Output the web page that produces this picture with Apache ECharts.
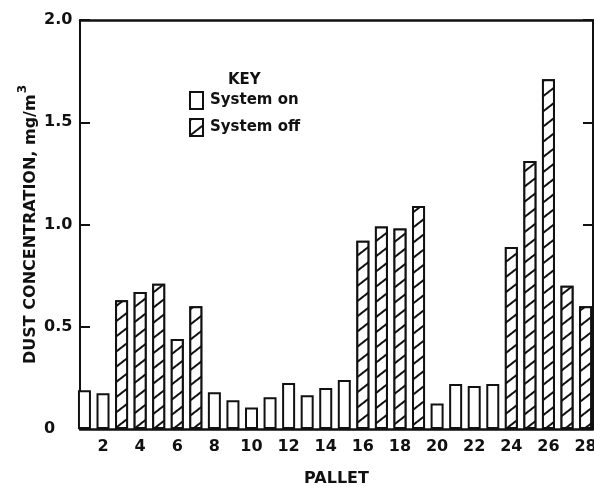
<!DOCTYPE html>
<html>
<head>
<meta charset="utf-8">
<script src="https://cdn.jsdelivr.net/npm/echarts@6/dist/echarts.min.js"></script>
<style>
html,body{margin:0;padding:0;background:#fff;}
#chart{width:594px;height:490px;}
</style>
</head>
<body>
<div id="chart"></div>
<script>
// Data
const pallets = [1,2,3,4,5,6,7,8,9,10,11,12,13,14,15,16,17,18,19,20,21,22,23,24,25,26,27,28];
const systemOn = [0.19,0.175,null,null,null,null,null,0.18,0.14,0.105,0.155,0.225,0.165,0.20,0.24,null,null,null,null,0.125,0.22,0.21,0.22,null,null,null,null,null];
const systemOff = [null,null,0.63,0.67,0.71,0.44,0.60,null,null,null,null,null,null,null,null,0.92,0.99,0.98,1.09,null,null,null,null,0.89,1.31,1.71,0.70,0.60];
const xTickLabels = [2,4,6,8,10,12,14,16,18,20,22,24,26,28];

const FONT = 'DejaVu Sans';
const INK = '#111';

const chart = echarts.init(document.getElementById('chart'), null, {renderer:'canvas'});

const onData = pallets.map((p,i)=>[p, systemOn[i]]);
const offData = pallets.map((p,i)=>[p, systemOff[i]]);

chart.setOption({
  backgroundColor:'#fff',
  animation:false,
  title:{
    text:'KEY', left:223, top:68,
    textStyle:{fontFamily:FONT, fontSize:15, fontWeight:'bold', color:INK}
  },
  legend:{
    data:['System on','System off'],
    orient:'vertical', left:184, top:86,
    itemWidth:13, itemHeight:17, itemGap:8,
    icon:'rect',
    textStyle:{fontFamily:FONT, fontSize:15, fontWeight:'bold', color:INK, padding:[0,0,0,2]}
  },
  grid:{left:80, top:20, width:513, height:409, show:false, outerBoundsMode:'none', containLabel:false},
  xAxis:[{
    type:'value', min:0.76, max:28.4,
    name:'PALLET', nameLocation:'middle', nameGap:42, nameMoveOverlap:false,
    nameTextStyle:{fontFamily:FONT, fontSize:16, fontWeight:'bold', color:INK},
    axisLine:{show:true, onZero:false, lineStyle:{color:INK, width:2.5}},
    axisTick:{show:false},
    splitLine:{show:false},
    axisLabel:{customValues:xTickLabels, margin:10, fontFamily:FONT, fontSize:16, fontWeight:'bold', color:INK}
  },{
    type:'value', min:0.76, max:28.4, position:'top',
    axisLine:{show:true, onZero:false, lineStyle:{color:INK, width:2.5}},
    axisTick:{show:false}, axisLabel:{show:false}, splitLine:{show:false}
  }],
  yAxis:[{
    type:'value', min:0, max:2, interval:0.5,
    name:'{a|DUST CONCENTRATION, mg/m}{s|3}', nameLocation:'middle', nameGap:41, nameMoveOverlap:false,
    nameTextStyle:{
      fontFamily:FONT, fontSize:16, fontWeight:'bold', color:INK,
      rich:{
        a:{fontFamily:FONT, fontSize:16, fontWeight:'bold', color:INK, verticalAlign:'bottom', lineHeight:22},
        s:{fontFamily:FONT, fontSize:12, fontWeight:'bold', color:INK, verticalAlign:'top', lineHeight:22, padding:[0,0,10,1]}
      }
    },
    axisLine:{show:true, lineStyle:{color:INK, width:2}},
    axisTick:{show:true, inside:true, length:10, lineStyle:{color:INK, width:2}},
    splitLine:{show:false},
    axisLabel:{
      align:'left', margin:36, fontFamily:FONT, fontSize:16, fontWeight:'bold', color:INK,
      formatter:v=> v===0 ? '0' : v.toFixed(1)
    }
  },{
    type:'value', min:0, max:2, interval:0.5, position:'right',
    axisLine:{show:true, lineStyle:{color:INK, width:2}},
    axisTick:{show:true, inside:true, length:10, lineStyle:{color:INK, width:2}},
    axisLabel:{show:false}, splitLine:{show:false}
  }],
  series:[{
    name:'System on', type:'bar', data:onData, barWidth:13, barGap:'-100%',
    itemStyle:{color:'#fff', borderColor:INK, borderWidth:2}
  },{
    name:'System off', type:'bar', data:offData, barWidth:13, barGap:'-100%',
    itemStyle:{
      color:'#fff', borderColor:INK, borderWidth:2,
      decal:{symbol:'rect', symbolSize:1, dashArrayX:[1,0], dashArrayY:[2,10], rotation:-0.66, color:INK, backgroundColor:'#fff'}
    }
  }]
});
</script>
</body>
</html>
